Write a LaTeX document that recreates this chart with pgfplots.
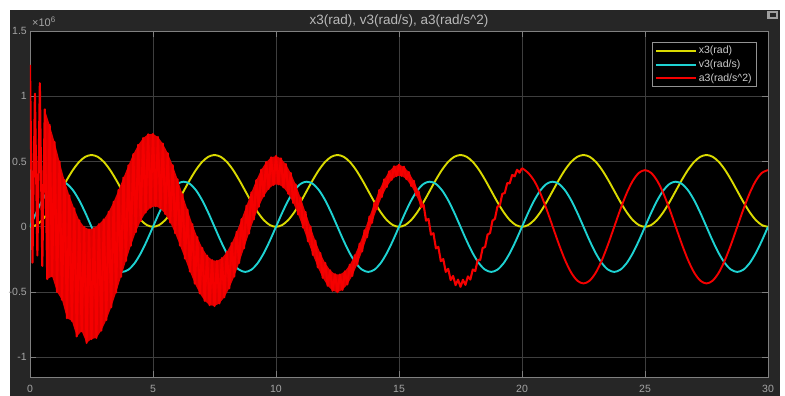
\documentclass[border=0pt]{standalone}
\usepackage{fontspec}
\setmainfont{Liberation Sans}
\usepackage{pgfplots}
\usepackage{pgfplotstable}
\pgfplotsset{compat=1.18}
\definecolor{panel}{RGB}{38,38,38}
\definecolor{axbord}{RGB}{128,128,128}
\definecolor{gridc}{RGB}{62,62,62}
\definecolor{ticklab}{RGB}{165,165,165}
\definecolor{titlec}{RGB}{185,185,185}
\definecolor{legtext}{RGB}{205,205,205}
\definecolor{ylw}{RGB}{218,218,0}
\definecolor{cyn}{RGB}{30,210,210}
\definecolor{rd}{RGB}{245,0,0}
\definecolor{rdfill}{RGB}{225,0,0}

\pgfplotstableread{
t x v
0 0 0
0.25 0.0134 0.1068
0.5 0.0525 0.2031
0.75 0.1134 0.2796
1 0.19 0.3287
1.25 0.275 0.3456
1.5 0.36 0.3287
1.75 0.4366 0.2796
2 0.4975 0.2031
2.25 0.5366 0.1068
2.5 0.55 0
2.75 0.5366 -0.1068
3 0.4975 -0.2031
3.25 0.4366 -0.2796
3.5 0.36 -0.3287
3.75 0.275 -0.3456
4 0.19 -0.3287
4.25 0.1134 -0.2796
4.5 0.0525 -0.2031
4.75 0.0134 -0.1068
5 0 0
5.25 0.0134 0.1068
5.5 0.0525 0.2031
5.75 0.1134 0.2796
6 0.19 0.3287
6.25 0.275 0.3456
6.5 0.36 0.3287
6.75 0.4366 0.2796
7 0.4975 0.2031
7.25 0.5366 0.1068
7.5 0.55 0
7.75 0.5366 -0.1068
8 0.4975 -0.2031
8.25 0.4366 -0.2796
8.5 0.36 -0.3287
8.75 0.275 -0.3456
9 0.19 -0.3287
9.25 0.1134 -0.2796
9.5 0.0525 -0.2031
9.75 0.0134 -0.1068
10 0 0
10.25 0.0134 0.1068
10.5 0.0525 0.2031
10.75 0.1134 0.2796
11 0.19 0.3287
11.25 0.275 0.3456
11.5 0.36 0.3287
11.75 0.4366 0.2796
12 0.4975 0.2031
12.25 0.5366 0.1068
12.5 0.55 0
12.75 0.5366 -0.1068
13 0.4975 -0.2031
13.25 0.4366 -0.2796
13.5 0.36 -0.3287
13.75 0.275 -0.3456
14 0.19 -0.3287
14.25 0.1134 -0.2796
14.5 0.0525 -0.2031
14.75 0.0134 -0.1068
15 0 0
15.25 0.0134 0.1068
15.5 0.0525 0.2031
15.75 0.1134 0.2796
16 0.19 0.3287
16.25 0.275 0.3456
16.5 0.36 0.3287
16.75 0.4366 0.2796
17 0.4975 0.2031
17.25 0.5366 0.1068
17.5 0.55 0
17.75 0.5366 -0.1068
18 0.4975 -0.2031
18.25 0.4366 -0.2796
18.5 0.36 -0.3287
18.75 0.275 -0.3456
19 0.19 -0.3287
19.25 0.1134 -0.2796
19.5 0.0525 -0.2031
19.75 0.0134 -0.1068
20 0 0
20.25 0.0134 0.1068
20.5 0.0525 0.2031
20.75 0.1134 0.2796
21 0.19 0.3287
21.25 0.275 0.3456
21.5 0.36 0.3287
21.75 0.4366 0.2796
22 0.4975 0.2031
22.25 0.5366 0.1068
22.5 0.55 0
22.75 0.5366 -0.1068
23 0.4975 -0.2031
23.25 0.4366 -0.2796
23.5 0.36 -0.3287
23.75 0.275 -0.3456
24 0.19 -0.3287
24.25 0.1134 -0.2796
24.5 0.0525 -0.2031
24.75 0.0134 -0.1068
25 0 0
25.25 0.0134 0.1068
25.5 0.0525 0.2031
25.75 0.1134 0.2796
26 0.19 0.3287
26.25 0.275 0.3456
26.5 0.36 0.3287
26.75 0.4366 0.2796
27 0.4975 0.2031
27.25 0.5366 0.1068
27.5 0.55 0
27.75 0.5366 -0.1068
28 0.4975 -0.2031
28.25 0.4366 -0.2796
28.5 0.36 -0.3287
28.75 0.275 -0.3456
29 0.19 -0.3287
29.25 0.1134 -0.2796
29.5 0.0525 -0.2031
29.75 0.0134 -0.1068
30 0 0
}\xv

\pgfplotstableread{
t a
0.0 1.24
0.1 -0.275
0.2 1.02
0.3 -0.22
0.4 1.10
0.5 -0.30
0.6 0.90
0.7 -0.40
0.8 0.78
0.9 -0.38
1.0 0.65
1.1 -0.50
1.2 0.50
1.3 -0.56
1.4 0.36
1.5 -0.70
1.6 0.24
1.7 -0.72
1.8 0.14
1.9 -0.84
2.0 0.05
2.1 -0.80
2.2 0.00
2.3 -0.89
2.4 -0.02
2.5 -0.86
2.6 -0.01
2.7 -0.851
2.8 0.02
2.9 -0.795
3.0 0.056
3.1 -0.715
3.2 0.115
3.3 -0.617
3.4 0.192
3.5 -0.504
3.6 0.282
3.7 -0.383
3.8 0.377
3.9 -0.262
4.0 0.471
4.1 -0.145
4.2 0.557
4.3 -0.041
4.4 0.628
4.5 0.045
4.6 0.680
4.7 0.109
4.8 0.709
4.9 0.147
5.0 0.712
5.1 0.158
5.2 0.688
5.3 0.141
5.4 0.638
5.5 0.098
5.6 0.564
5.7 0.033
5.8 0.472
5.9 -0.049
6.0 0.364
6.1 -0.145
6.2 0.249
6.3 -0.244
6.4 0.132
6.5 -0.343
6.6 0.020
6.7 -0.435
6.8 -0.079
6.9 -0.510
7.0 -0.161
7.1 -0.567
7.2 -0.221
7.3 -0.600
7.4 -0.255
7.5 -0.607
7.6 -0.261
7.7 -0.587
7.8 -0.240
7.9 -0.540
8.0 -0.193
8.1 -0.471
8.2 -0.125
8.3 -0.382
8.4 -0.039
8.5 -0.277
8.6 0.059
8.7 -0.165
8.8 0.162
8.9 -0.052
9.0 0.264
9.1 0.057
9.2 0.358
9.3 0.154
9.4 0.437
9.5 0.233
9.6 0.496
9.7 0.290
9.8 0.532
9.9 0.321
10.0 0.542
10.1 0.325
10.2 0.524
10.3 0.302
10.4 0.480
10.5 0.253
10.6 0.412
10.7 0.183
10.8 0.325
10.9 0.094
11.0 0.223
11.1 -0.006
11.2 0.113
11.3 -0.111
11.4 0.002
11.5 -0.215
11.6 -0.106
11.7 -0.311
11.8 -0.201
11.9 -0.391
12.0 -0.277
12.1 -0.452
12.2 -0.333
12.3 -0.490
12.4 -0.363
12.5 -0.501
12.6 -0.365
12.7 -0.484
12.8 -0.341
12.9 -0.442
13.0 -0.290
13.1 -0.376
13.2 -0.218
13.3 -0.290
13.4 -0.129
13.5 -0.189
13.6 -0.027
13.7 -0.080
13.8 0.079
13.9 0.030
14.0 0.184
14.1 0.136
14.2 0.282
14.3 0.229
14.4 0.363
14.5 0.305
14.6 0.425
14.7 0.360
14.8 0.463
14.9 0.389
15.0 0.476
15.1 0.390
15.2 0.460
15.3 0.365
15.4 0.419
15.5 0.313
15.6 0.353
15.7 0.241
15.8 0.269
15.9 0.150
16.0 0.169
16.1 0.047
16.2 0.060
16.3 -0.060
16.4 -0.049
16.5 -0.165
16.6 -0.154
16.7 -0.263
16.8 -0.247
16.9 -0.345
17.0 -0.322
17.1 -0.408
17.2 -0.377
17.3 -0.447
17.4 -0.405
17.5 -0.460
17.6 -0.406
17.7 -0.445
17.8 -0.380
17.9 -0.404
18.0 -0.327
18.1 -0.339
18.2 -0.254
18.3 -0.255
18.4 -0.163
18.5 -0.155
18.6 -0.060
18.7 -0.048
18.8 0.047
18.9 0.061
19.0 0.154
19.1 0.166
19.2 0.252
19.3 0.259
19.4 0.334
19.5 0.333
19.6 0.397
19.7 0.387
19.8 0.437
19.9 0.415
20.0 0.450
}\azig

% envelope of the dense band: tips on top (forward), tips below (backward)
\pgfplotstableread{
t a
0.6 0.90
0.8 0.78
1.0 0.65
1.2 0.50
1.4 0.36
1.6 0.24
1.8 0.14
2.0 0.05
2.2 0.00
2.4 -0.02
2.6 -0.01
2.8 0.02
3.0 0.056
3.2 0.115
3.4 0.192
3.6 0.282
3.8 0.377
4.0 0.471
4.2 0.557
4.4 0.628
4.6 0.680
4.8 0.709
5.0 0.712
5.2 0.688
5.4 0.638
5.6 0.564
5.8 0.472
6.0 0.364
6.2 0.249
6.4 0.132
6.6 0.020
6.8 -0.079
7.0 -0.161
7.2 -0.221
7.4 -0.255
7.6 -0.261
7.8 -0.240
8.0 -0.193
8.2 -0.125
8.4 -0.039
8.6 0.059
8.8 0.162
9.0 0.264
9.2 0.358
9.4 0.437
9.6 0.496
9.8 0.532
10.0 0.542
10.2 0.524
10.4 0.480
10.6 0.412
10.8 0.325
11.0 0.223
11.2 0.113
11.4 0.002
11.6 -0.106
11.8 -0.201
12.0 -0.277
12.2 -0.333
12.4 -0.363
12.6 -0.365
12.8 -0.341
13.0 -0.290
13.2 -0.218
13.4 -0.129
13.6 -0.027
13.8 0.079
14.0 0.184
14.2 0.282
14.4 0.363
14.6 0.425
14.8 0.463
15.0 0.476
15.2 0.460
15.4 0.419
15.6 0.353
15.8 0.269
16.0 0.169
15.9 0.150
15.7 0.241
15.5 0.313
15.3 0.365
15.1 0.390
14.9 0.389
14.7 0.360
14.5 0.305
14.3 0.229
14.1 0.136
13.9 0.030
13.7 -0.080
13.5 -0.189
13.3 -0.290
13.1 -0.376
12.9 -0.442
12.7 -0.484
12.5 -0.501
12.3 -0.490
12.1 -0.452
11.9 -0.391
11.7 -0.311
11.5 -0.215
11.3 -0.111
11.1 -0.006
10.9 0.094
10.7 0.183
10.5 0.253
10.3 0.302
10.1 0.325
9.9 0.321
9.7 0.290
9.5 0.233
9.3 0.154
9.1 0.057
8.9 -0.052
8.7 -0.165
8.5 -0.277
8.3 -0.382
8.1 -0.471
7.9 -0.540
7.7 -0.587
7.5 -0.607
7.3 -0.600
7.1 -0.567
6.9 -0.510
6.7 -0.435
6.5 -0.343
6.3 -0.244
6.1 -0.145
5.9 -0.049
5.7 0.033
5.5 0.098
5.3 0.141
5.1 0.158
4.9 0.147
4.7 0.109
4.5 0.045
4.3 -0.041
4.1 -0.145
3.9 -0.262
3.7 -0.383
3.5 -0.504
3.3 -0.617
3.1 -0.715
2.9 -0.795
2.7 -0.851
2.5 -0.86
2.3 -0.89
2.1 -0.80
1.9 -0.84
1.7 -0.72
1.5 -0.70
1.3 -0.56
1.1 -0.50
0.9 -0.38
0.7 -0.40
}\aenv

\pgfplotstableread{
t a
20.0 0.450
20.25 0.413
20.5 0.351
20.75 0.255
21 0.134
21.25 0
21.5 -0.134
21.75 -0.255
22 -0.351
22.25 -0.413
22.5 -0.434
22.75 -0.413
23 -0.351
23.25 -0.255
23.5 -0.134
23.75 0
24 0.134
24.25 0.255
24.5 0.351
24.75 0.413
25 0.434
25.25 0.413
25.5 0.351
25.75 0.255
26 0.134
26.25 0
26.5 -0.134
26.75 -0.255
27 -0.351
27.25 -0.413
27.5 -0.434
27.75 -0.413
28 -0.351
28.25 -0.255
28.5 -0.134
28.75 0
29 0.134
29.25 0.255
29.5 0.351
29.75 0.413
30 0.434
}\atail

\begin{document}
\begin{tikzpicture}
\useasboundingbox (0pt,0pt) rectangle (785pt,396pt);
\fill[white] (0pt,0pt) rectangle (785pt,396pt);
\fill[panel] (10pt,0pt) rectangle (780pt,386pt);
\fill[gray!75] (767pt,377pt) rectangle (778pt,385pt);
\fill[panel] (769.5pt,379pt) rectangle (775.5pt,383pt);
\begin{axis}[
  at={(30pt,18.7pt)}, anchor=south west,
  scale only axis, width=738pt, height=346.3pt,
  xmin=0, xmax=30, ymin=-1.153, ymax=1.5,
  clip mode=individual,
  axis background/.style={fill=black},
  axis line style={draw=axbord, line width=0.9pt},
  grid=major,
  major grid style={draw=gridc, line width=0.8pt},
  tick align=inside, major tick length=6pt,
  tick style={draw=axbord, line width=0.9pt},
  xtick={0,5,10,15,20,25,30},
  xticklabels={0,5,10,15,20,25,30},
  ytick={-1,-0.5,0,0.5,1,1.5},
  yticklabels={-1,-0.5,0,0.5,1,1.5},
  /pgf/number format/assume math mode=true,
  ticklabel style={font=\fontsize{10.5}{12}\selectfont, text=ticklab},
  xticklabel style={anchor=north, inner sep=0pt, yshift=-7.5pt},
  yticklabel style={anchor=east, inner sep=0pt, xshift=-3pt},
  every axis title shift=0pt,
  title={x3(rad), v3(rad/s), a3(rad/s\textasciicircum 2)},
  title style={at={(0.5,1)}, anchor=base, yshift=6.5pt, inner sep=0pt,
    font=\fontsize{13.5}{15}\selectfont, text=titlec},
  legend style={at={(1,1)}, anchor=north east, xshift=-11pt, yshift=-11pt,
    fill=black, draw=gray!85!white, text=legtext, line width=0.7pt,
    font=\fontsize{10.5}{12}\selectfont, inner xsep=3pt, inner ysep=2pt,
    row sep=0.5pt, nodes={inner sep=2pt}},
  legend cell align=left,
  legend image code/.code={\draw[#1, line width=2pt] (0pt,0pt) -- (40pt,0pt);},
]
\addplot[ylw, line width=1.9pt, smooth, no markers] table[x=t, y=x] {\xv};
\addlegendentry{x3(rad)}
\addplot[cyn, line width=1.9pt, smooth, no markers] table[x=t, y=v] {\xv};
\addlegendentry{v3(rad/s)}
\addplot[fill=rdfill, draw=none, no markers, forget plot] table[x=t, y=a] {\aenv};
\addplot[rd, line width=2.1pt, line join=round, no markers] table[x=t, y=a] {\azig};
\addlegendentry{a3(rad/s\textasciicircum 2)}
\addplot[rd, line width=1.9pt, smooth, no markers, forget plot] table[x=t, y=a] {\atail};
\node[anchor=base west, inner sep=0pt, xshift=2pt, yshift=4.5pt,
  font=\fontsize{11}{13}\selectfont, text=ticklab] at (rel axis cs:0,1)
  {×10\raisebox{4pt}{\fontsize{8}{9}\selectfont 6}};
\end{axis}
\end{tikzpicture}
\end{document}
